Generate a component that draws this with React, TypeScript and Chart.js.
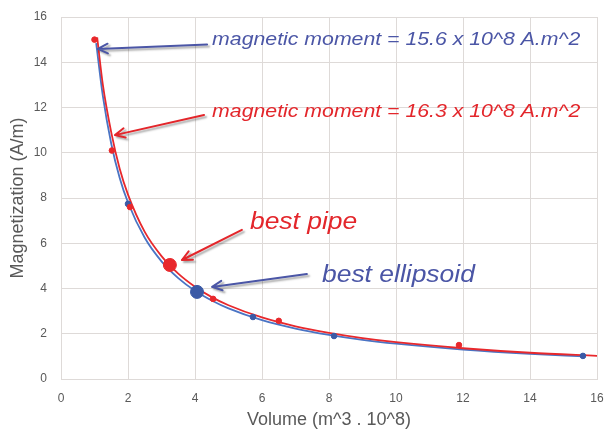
import React, { useEffect, useRef } from "react";
import { Chart, registerables } from "chart.js";

Chart.register(...registerables);

// Fitted curves
const pipeCurveV = [1.08, 1.25, 1.5, 1.75, 2, 2.5, 3, 3.5, 4, 4.5, 5, 6, 7, 8, 9, 10, 12, 14, 16.05];
const pipeCurveM = [15.1, 13.0, 10.9, 9.3, 8.15, 6.5, 5.43, 4.66, 4.08, 3.62, 3.26, 2.72, 2.33, 2.04, 1.81, 1.63, 1.36, 1.16, 1.02];
const ellCurveV = [1.05, 1.25, 1.5, 1.75, 2, 2.5, 3, 3.5, 4, 4.5, 5, 6, 7, 8, 9, 10, 12, 14, 15.6];
const ellCurveM = [14.85, 12.5, 10.4, 8.9, 7.8, 6.24, 5.2, 4.46, 3.9, 3.47, 3.12, 2.6, 2.23, 1.95, 1.73, 1.56, 1.3, 1.11, 1.0];

// Sample points
const pipePointsV = [1.0, 1.52, 2.06, 4.54, 6.5, 11.88];
const pipePointsM = [15.0, 10.1, 7.6, 3.54, 2.57, 1.5];
const ellPointsV = [2.0, 5.73, 8.15, 15.58];
const ellPointsM = [7.74, 2.74, 1.9, 1.02];

// Best models
const bestPipe = [3.25, 5.04];
const bestEllipsoid = [4.06, 3.85];

const xTicks = [0, 2, 4, 6, 8, 10, 12, 14, 16];
const yTicks = [0, 2, 4, 6, 8, 10, 12, 14, 16];

const RED = "#e8282c";
const BLUE_LINE = "#4a74c4";
const BLUE_PT = "#3b5aa6";
const BLUE_TXT = "#4b56a6";
const RED_TXT = "#e3262b";
const GRID = "#dedad8";
const TEXT_GRAY = "#595959";

type Note = {
  text: string;
  color: string;
  size: number;
  textAt: number[];
  tail: number[];
  tip: number[];
};

const notes: Note[] = [
  { text: "magnetic moment = 15.6 x 10^8 A.m^2", color: BLUE_TXT, size: 18.5, textAt: [4.51, 14.76], tail: [4.36, 14.78], tip: [1.1, 14.59] },
  { text: "magnetic moment = 16.3 x 10^8 A.m^2", color: RED_TXT, size: 18.5, textAt: [4.51, 11.58], tail: [4.27, 11.67], tip: [1.61, 10.78] },
  { text: "best pipe", color: RED_TXT, size: 23, textAt: [5.64, 6.63], tail: [5.4, 6.59], tip: [3.61, 5.26] },
  { text: "best ellipsoid", color: BLUE_TXT, size: 23, textAt: [7.79, 4.29], tail: [7.34, 4.64], tip: [4.51, 4.07] },
];

const zip = (xs: number[], ys: number[]) => xs.map((x, i) => ({ x, y: ys[i] }));

const notesPlugin = {
  id: "notes",
  afterDatasetsDraw(chart: any) {
    const { ctx, scales } = chart;
    const xs = scales.x;
    const ys = scales.y;
    notes.forEach((n) => {
      const tx = xs.getPixelForValue(n.tail[0]);
      const ty = ys.getPixelForValue(n.tail[1]);
      const px = xs.getPixelForValue(n.tip[0]);
      const py = ys.getPixelForValue(n.tip[1]);
      ctx.save();
      ctx.shadowColor = "rgba(0,0,0,0.35)";
      ctx.shadowOffsetX = 2;
      ctx.shadowOffsetY = 2;
      ctx.shadowBlur = 2;
      ctx.strokeStyle = n.color;
      ctx.lineWidth = 2;
      ctx.lineCap = "round";
      ctx.lineJoin = "round";
      const ang = Math.atan2(py - ty, px - tx);
      const L = 11;
      const a = 0.45;
      ctx.beginPath();
      ctx.moveTo(tx, ty);
      ctx.lineTo(px, py);
      ctx.moveTo(px - L * Math.cos(ang - a), py - L * Math.sin(ang - a));
      ctx.lineTo(px, py);
      ctx.lineTo(px - L * Math.cos(ang + a), py - L * Math.sin(ang + a));
      ctx.stroke();
      ctx.restore();

      ctx.save();
      const x0 = xs.getPixelForValue(n.textAt[0]);
      const y0 = ys.getPixelForValue(n.textAt[1]);
      ctx.translate(x0, y0);
      ctx.scale(1.15, 1);
      ctx.font = `italic ${n.size}px "Liberation Sans", Arial, sans-serif`;
      ctx.fillStyle = n.color;
      ctx.textAlign = "left";
      ctx.textBaseline = "alphabetic";
      ctx.fillText(n.text, 0, 0);
      ctx.restore();
    });
  },
};

export default function App() {
  const ref = useRef<HTMLCanvasElement | null>(null);
  useEffect(() => {
    document.body.style.margin = "0";
    const canvas = ref.current;
    if (!canvas) return;
    const chart = new Chart(canvas, {
      type: "scatter",
      data: {
        datasets: [
          {
            label: "best pipe",
            data: [{ x: bestPipe[0], y: bestPipe[1] }],
            backgroundColor: RED,
            borderColor: RED,
            pointRadius: 6.5,
            order: 0,
          },
          {
            label: "best ellipsoid",
            data: [{ x: bestEllipsoid[0], y: bestEllipsoid[1] }],
            backgroundColor: BLUE_PT,
            borderColor: BLUE_PT,
            pointRadius: 6.5,
            order: 0,
          },
          {
            label: "pipe points",
            data: zip(pipePointsV, pipePointsM),
            backgroundColor: RED,
            borderColor: RED,
            pointRadius: 2.8,
            order: 1,
          },
          {
            label: "ellipsoid points",
            data: zip(ellPointsV, ellPointsM),
            backgroundColor: BLUE_PT,
            borderColor: BLUE_PT,
            pointRadius: 2.8,
            order: 1,
          },
          {
            type: "line",
            label: "pipe fit",
            data: zip(pipeCurveV, pipeCurveM),
            borderColor: RED,
            borderWidth: 1.8,
            pointRadius: 0,
            showLine: true,
            fill: false,
            cubicInterpolationMode: "monotone",
            order: 2,
          } as any,
          {
            type: "line",
            label: "ellipsoid fit",
            data: zip(ellCurveV, ellCurveM),
            borderColor: BLUE_LINE,
            borderWidth: 1.8,
            pointRadius: 0,
            showLine: true,
            fill: false,
            cubicInterpolationMode: "monotone",
            order: 3,
          } as any,
        ],
      },
      options: {
        animation: false,
        responsive: false,
        layout: { padding: { top: 17, right: 8, left: 0, bottom: 0 } },
        plugins: { legend: { display: false }, tooltip: { enabled: false } },
        scales: {
          x: {
            type: "linear",
            min: 0,
            max: 16,
            afterBuildTicks: (s: any) => {
              s.ticks = xTicks.map((v) => ({ value: v }));
            },
            ticks: { color: TEXT_GRAY, font: { size: 12, family: '"Liberation Sans", Arial, sans-serif' }, padding: 12 },
            grid: { color: GRID, drawTicks: false, lineWidth: 1 },
            border: { color: GRID },
            title: {
              display: true,
              text: "Volume (m^3 . 10^8)",
              color: TEXT_GRAY,
              font: { size: 18, family: '"Liberation Sans", Arial, sans-serif' },
              padding: { top: 0, bottom: 2 },
            },
            afterFit: (s: any) => {
              s.height = 54;
              s.paddingLeft = 0;
              s.paddingRight = 0;
            },
          },
          y: {
            type: "linear",
            min: 0,
            max: 16,
            afterBuildTicks: (s: any) => {
              s.ticks = yTicks.map((v) => ({ value: v }));
            },
            ticks: { color: TEXT_GRAY, font: { size: 12, family: '"Liberation Sans", Arial, sans-serif' }, padding: 14 },
            grid: { color: GRID, drawTicks: false, lineWidth: 1 },
            border: { color: GRID },
            title: {
              display: true,
              text: "Magnetization (A/m)",
              color: TEXT_GRAY,
              font: { size: 18, family: '"Liberation Sans", Arial, sans-serif' },
              padding: { top: 7, bottom: 0 },
            },
            afterFit: (s: any) => {
              s.width = 61;
              s.paddingTop = 0;
              s.paddingBottom = 0;
            },
          },
        },
      },
      plugins: [notesPlugin],
    });
    return () => chart.destroy();
  }, []);

  return (
    <div style={{ position: "relative", width: 605, height: 433, background: "#ffffff" }}>
      <canvas ref={ref} width={605} height={433} style={{ display: "block" }} />
    </div>
  );
}
